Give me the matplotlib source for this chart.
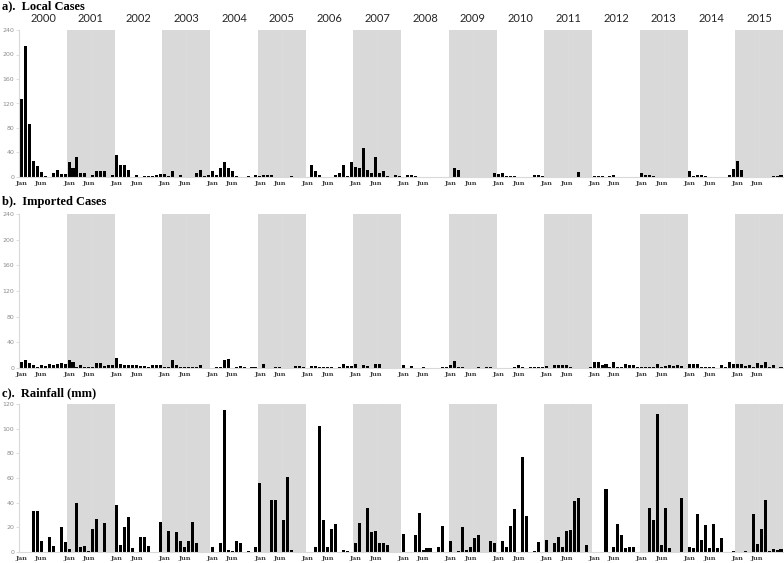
import matplotlib
matplotlib.use("Agg")
import matplotlib.pyplot as plt
import numpy as np

################################################################################
# Data (monthly values, Jan..Dec for each year 2000-2015)
################################################################################
years = list(range(2000, 2016))
month_ticks = ["Jan", "Jun"]

local_cases = [
    [128, 214, 87, 26, 18, 8, 2, 0, 7, 11, 5, 5],        # 2000
    [25, 14, 33, 7, 7, 0, 4, 9, 10, 10, 0, 3],           # 2001
    [36, 20, 20, 11, 0, 3, 0, 2, 2, 2, 3, 5],            # 2002
    [5, 1, 10, 0, 3, 0, 0, 0, 6, 11, 2, 4],              # 2003
    [10, 3, 15, 25, 15, 9, 1, 0, 0, 1, 0, 3],            # 2004
    [2, 3, 4, 3, 0, 0, 0, 0, 1, 0, 0, 0],                # 2005
    [0, 20, 9, 3, 0, 0, 0, 3, 6, 19, 2, 24],             # 2006
    [17, 15, 47, 12, 7, 33, 7, 9, 2, 0, 3, 1],           # 2007
    [0, 4, 3, 1, 0, 0, 0, 0, 0, 0, 0.5, 0.5],            # 2008
    [0, 14, 11, 0.5, 0, 0, 0, 0, 0, 0.5, 0.5, 6],        # 2009
    [5, 7, 2, 1, 1, 0, 0, 0, 0, 3, 3, 1],                # 2010
    [0.5, 0, 0.5, 0.5, 0, 0.5, 0, 0, 8, 0, 0, 0],        # 2011
    [2, 2, 1, 0, 1, 3, 0, 0, 0, 0, 0.5, 0.5],            # 2012
    [6, 3, 3, 1, 0, 0, 0, 0, 0.5, 0.5, 0.5, 0.5],        # 2013
    [10, 2, 3, 3, 2, 0, 0, 0, 0, 0.5, 3, 13],            # 2014
    [26, 12, 0, 0, 0, 0, 0, 0, 0.5, 2, 2, 3],            # 2015
]

imported_cases = [
    [10, 12, 8, 5, 2, 4, 3, 6, 4, 7, 8, 7],              # 2000
    [12, 9, 2, 5, 2, 2, 2, 8, 8, 3, 4, 4],               # 2001
    [16, 6, 4, 4, 5, 5, 3, 3, 1, 4, 5, 5],               # 2002
    [2, 1, 13, 4, 2, 2, 2, 2, 1, 5, 0, 0],               # 2003
    [0, 1, 1, 12, 14, 0, 1, 3, 1, 0, 2, 1],              # 2004
    [0, 6, 0, 0, 1, 1, 0, 0, 0, 3, 3, 2],                # 2005
    [0, 3, 3, 2, 2, 1, 2, 0, 1, 7, 3, 3],                # 2006
    [6, 0, 4, 3, 0, 6, 6, 0, 0, 0, 0, 0],                # 2007
    [4, 0, 3, 0, 0, 1, 0, 0.5, 0, 0.5, 1, 1],            # 2008
    [4, 11, 2, 2, 0, 0, 0, 1, 0, 2, 2, 0],               # 2009
    [0.5, 0.5, 0.5, 0.5, 1, 4, 1, 0.5, 2, 1, 2, 2],      # 2010
    [3, 0, 4, 5, 4, 4, 2, 0, 0, 0, 0.5, 1],              # 2011
    [10, 10, 4, 7, 2, 10, 2, 2, 7, 5, 4, 1],             # 2012
    [2, 2, 1, 2, 6, 2, 3, 4, 3, 5, 3, 0],                # 2013
    [6, 6, 6, 1, 1, 1, 1, 0, 4, 2, 9, 7],                # 2014
    [6, 6, 3, 5, 1, 8, 5, 10, 2, 5, 0, 2],               # 2015
]

rainfall = [
    [0, 0, 0, 33.5, 33, 9, 0.3, 12, 5, 0, 20, 8],        # 2000
    [2.5, 0, 40, 4, 5, 1, 19, 26.5, 0, 23.5, 0, 0],      # 2001
    [38, 6, 20, 28, 3, 0, 12.5, 12, 5, 0, 0, 24],        # 2002
    [0, 17, 0, 16, 9, 4, 9, 24.5, 7, 0, 0, 0],           # 2003
    [4, 0, 7, 115, 1.5, 1, 9, 7, 0, 1, 0, 4],            # 2004
    [56, 0, 0.3, 42, 42, 0, 26, 61, 2, 0, 0.3, 0],       # 2005
    [0, 0, 4, 102, 26, 4, 19, 22.5, 0, 1.6, 0.5, 0],     # 2006
    [7, 23.5, 0, 36, 16, 17, 7.5, 7, 5.7, 0, 0, 0],      # 2007
    [15, 0, 0, 13.5, 32, 2, 3, 3.5, 0, 3.8, 21, 0],      # 2008
    [9, 0, 1, 20, 2, 4.3, 11, 14, 0.3, 0, 9, 7.6],       # 2009
    [0, 8.6, 4.3, 21, 34.6, 0, 77, 29, 0, 0.5, 8, 0.3],  # 2010
    [10, 0, 7.6, 12, 3.8, 17, 18, 41, 44, 0, 5.4, 0],    # 2011
    [0, 0, 0.3, 51, 0.3, 3.8, 22.4, 14, 3.5, 3.8, 4, 0], # 2012
    [0, 0, 35.7, 26, 112, 5.7, 35.7, 3, 0, 0, 43.5, 0],  # 2013
    [4.3, 3.5, 31, 10, 22, 3, 23, 3, 11, 0, 0, 1],       # 2014
    [0, 0, 0.5, 0, 31, 6.5, 19, 42, 1, 2.4, 1.6, 2.4],   # 2015
]

panel_titles = ["a).  Local Cases", "b).  Imported Cases", "c).  Rainfall (mm)"]
panel_ymax = [240, 240, 120]
panel_ystep = [40, 40, 20]

################################################################################
# Figure
################################################################################
W, H = 784, 563
fig = plt.figure(figsize=(W / 100, H / 100), dpi=100)

SHADE = "#d9d9d9"
SPINE = "#d9d9d9"
TITLE_FONT = ["Liberation Serif"]
YEAR_FONT = ["Lato"]


def px_rect(x0, y0, x1, y1):
    return [x0 / W, 1 - y1 / H, (x1 - x0) / W, (y1 - y0) / H]


# pixel rectangles (left, top, right, bottom)
rects = [
    (19.3, 30, 783, 177),
    (19.3, 214, 783, 368),
    (19.3, 404, 783, 552),
]
title_tops = [0, 196, 387]

n_months = 12 * len(years)
x = np.arange(n_months)
tick_pos = []
tick_lab = []
for i in range(len(years)):
    tick_pos += [12 * i, 12 * i + 5]
    tick_lab += month_ticks

for k, data in enumerate([local_cases, imported_cases, rainfall]):
    ax = fig.add_axes(px_rect(*rects[k]))
    values = np.array(data, dtype=float).ravel()

    for i, yr in enumerate(years):
        if yr % 2 == 1:
            ax.axvspan(12 * i - 0.5, 12 * i + 11.5, color=SHADE, lw=0, zorder=0)
            ax.axvline(12 * i + 5.5, color="#dddddd", lw=0.5, zorder=0.5)

    ax.bar(x, values, width=0.76, color="black", zorder=2)

    ax.set_xlim(-0.5, n_months - 0.5)
    ax.set_ylim(0, panel_ymax[k])
    ax.set_yticks(np.arange(0, panel_ymax[k] + 1, panel_ystep[k]))
    ax.set_xticks(tick_pos)
    ax.set_xticklabels(tick_lab, fontsize=4.6, fontweight="bold",
                       family=["DejaVu Serif"], color="#404040")
    ax.tick_params(axis="x", length=0, pad=3)
    ax.tick_params(axis="y", length=2, width=0.6, color=SPINE,
                   labelsize=4.5, labelcolor="#8c8c8c", pad=1.5)

    for side in ["top", "right"]:
        ax.spines[side].set_visible(False)
    for side in ["left", "bottom"]:
        ax.spines[side].set_color(SPINE)
        ax.spines[side].set_linewidth(0.8)

    fig.text(2 / W, 1 - title_tops[k] / H, panel_titles[k], ha="left", va="top",
             fontsize=9, fontweight="bold", family=TITLE_FONT)

    if k == 0:
        for i, yr in enumerate(years):
            xc = rects[0][0] + (i + 0.5) * (rects[0][2] - rects[0][0]) / len(years)
            fig.text(xc / W, 1 - 18.5 / H, str(yr), ha="center", va="center",
                     fontsize=8, family=YEAR_FONT, color="#262626")

fig.savefig("out.png", dpi=100)
